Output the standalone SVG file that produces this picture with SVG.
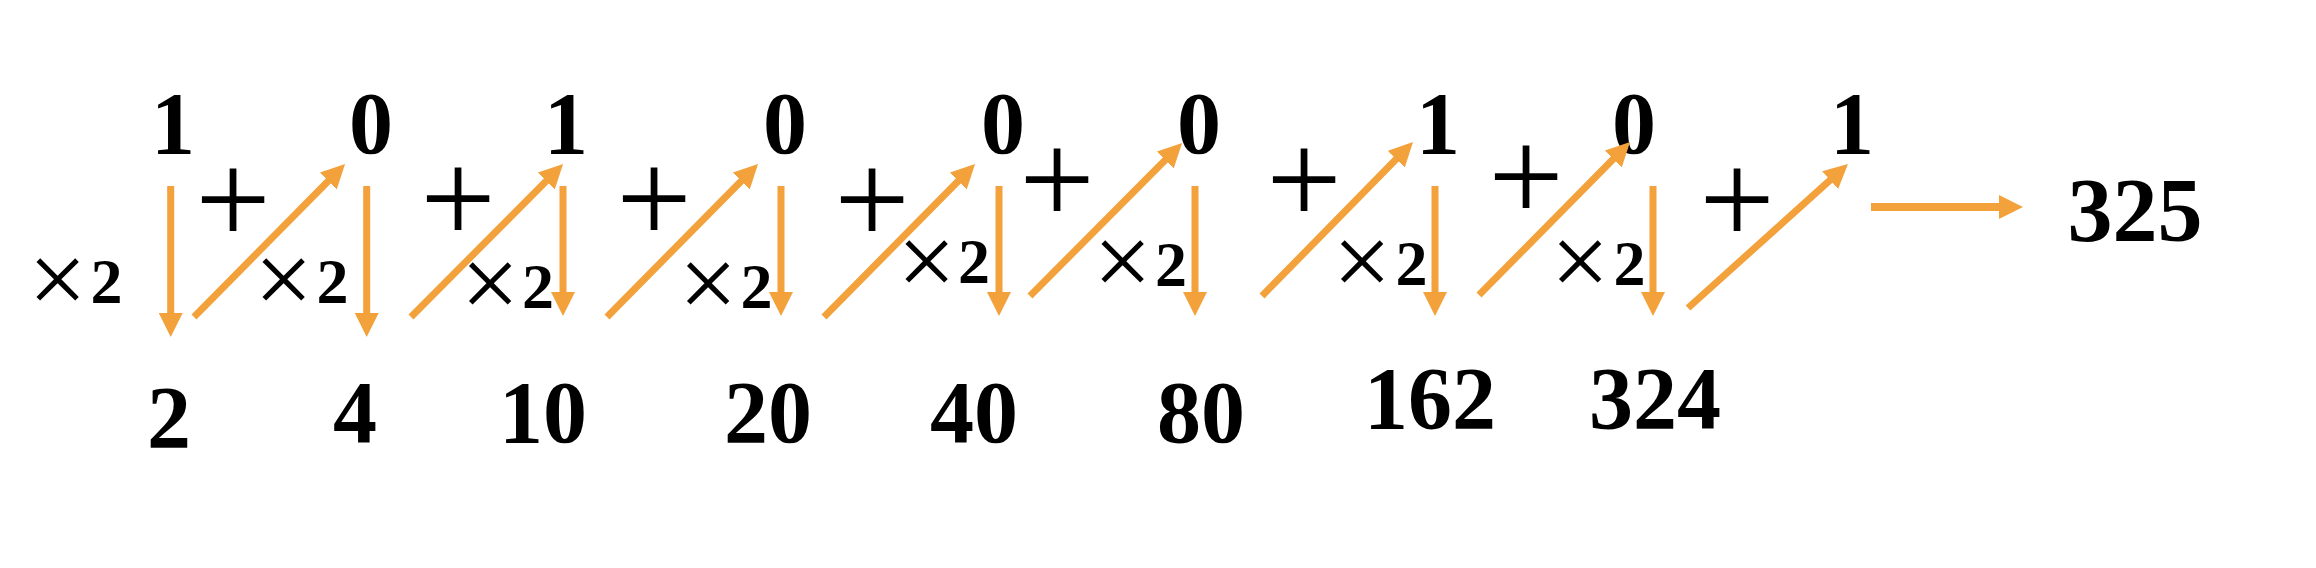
<svg xmlns="http://www.w3.org/2000/svg" width="2316" height="568" viewBox="0 0 2316 568">
<style>
.big{font-family:"Liberation Serif","Times New Roman",serif;font-weight:bold;font-size:88px;fill:#000;text-anchor:middle}
.res{font-size:90px}
.plus{font-family:"Liberation Serif","Times New Roman",serif;font-size:134px;fill:#000;text-anchor:middle}
.mul{font-family:"Liberation Serif","Times New Roman",serif;font-size:104px;fill:#000;text-anchor:middle}
.two{font-family:"Liberation Serif","Times New Roman",serif;font-weight:bold;font-size:64px;fill:#000;text-anchor:middle}
.arr{stroke:#F2A13B;stroke-width:7;fill:none;marker-end:url(#ah)}
.arrh{stroke:#F2A13B;stroke-width:8;fill:none;marker-end:url(#ah)}
</style>
<defs>
<marker id="ah" viewBox="0 0 24 24" markerWidth="24" markerHeight="24" markerUnits="userSpaceOnUse" refX="4" refY="12" orient="auto">
<path d="M0,0 L24,12 L0,24 z" fill="#F2A13B"/>
</marker>
</defs>
<rect width="2316" height="568" fill="#fff"/>
<g id="bits">
<text id="b1" class="big" x="173" y="153">1</text>
<text id="b2" class="big" x="371" y="153">0</text>
<text id="b3" class="big" x="566" y="153">1</text>
<text id="b4" class="big" x="785" y="153">0</text>
<text id="b5" class="big" x="1003" y="153">0</text>
<text id="b6" class="big" x="1199" y="153">0</text>
<text id="b7" class="big" x="1438" y="153">1</text>
<text id="b8" class="big" x="1634" y="153">0</text>
<text id="b9" class="big" x="1852" y="153">1</text>
</g>
<g id="partials">
<text id="r1" class="big" x="169" y="447">2</text>
<text id="r2" class="big" x="355" y="442">4</text>
<text id="r3" class="big" x="543" y="442">10</text>
<text id="r4" class="big" x="768" y="442">20</text>
<text id="r5" class="big" x="974" y="442">40</text>
<text id="r6" class="big" x="1201" y="442">80</text>
<text id="r7" class="big" x="1430" y="428">162</text>
<text id="r8" class="big" x="1655" y="428">324</text>
</g>
<g id="result">
<text id="r9" class="big res" x="2135" y="241">325</text>
</g>
<g id="plus">
<text id="p1" class="plus" x="233" y="244">+</text>
<text id="p2" class="plus" x="458" y="243">+</text>
<text id="p3" class="plus" x="654" y="243">+</text>
<text id="p4" class="plus" x="872" y="244">+</text>
<text id="p5" class="plus" x="1057" y="224">+</text>
<text id="p6" class="plus" x="1304" y="224">+</text>
<text id="p7" class="plus" x="1526" y="221">+</text>
<text id="p8" class="plus" x="1737" y="244">+</text>
</g>
<g id="times">
<text id="m1"><tspan class="mul" x="57.5" y="314">×</tspan><tspan class="two" x="106.5" y="303">2</tspan></text>
<text id="m2"><tspan class="mul" x="283.5" y="314">×</tspan><tspan class="two" x="332.5" y="303">2</tspan></text>
<text id="m3"><tspan class="mul" x="490" y="318">×</tspan><tspan class="two" x="538" y="308">2</tspan></text>
<text id="m4"><tspan class="mul" x="708" y="318">×</tspan><tspan class="two" x="756.5" y="308">2</tspan></text>
<text id="m5"><tspan class="mul" x="926.5" y="296">×</tspan><tspan class="two" x="974" y="283">2</tspan></text>
<text id="m6"><tspan class="mul" x="1122.5" y="296">×</tspan><tspan class="two" x="1171" y="286">2</tspan></text>
<text id="m7"><tspan class="mul" x="1362" y="296">×</tspan><tspan class="two" x="1411.5" y="285">2</tspan></text>
<text id="m8"><tspan class="mul" x="1580" y="296">×</tspan><tspan class="two" x="1629.5" y="285">2</tspan></text>
</g>
<g id="connectors">
<line class="arr" x1="170.7" y1="186" x2="170.7" y2="317"/>
<line class="arr" x1="366.7" y1="186" x2="366.7" y2="317"/>
<line class="arr" x1="563" y1="186" x2="563" y2="296"/>
<line class="arr" x1="781" y1="186" x2="781" y2="296"/>
<line class="arr" x1="999" y1="186" x2="999" y2="296"/>
<line class="arr" x1="1195" y1="186" x2="1195" y2="296"/>
<line class="arr" x1="1435" y1="186" x2="1435" y2="296"/>
<line class="arr" x1="1653" y1="186" x2="1653" y2="296"/>
<line class="arr" x1="194" y1="317" x2="331" y2="178.2"/>
<line class="arr" x1="411" y1="317" x2="549" y2="178.2"/>
<line class="arr" x1="607" y1="317" x2="744" y2="178.2"/>
<line class="arr" x1="824" y1="317" x2="961" y2="178.2"/>
<line class="arr" x1="1030" y1="296" x2="1168" y2="157.2"/>
<line class="arr" x1="1262" y1="296" x2="1399" y2="156.3"/>
<line class="arr" x1="1479" y1="295" x2="1616" y2="156.2"/>
<line class="arr" x1="1688" y1="308" x2="1833.1" y2="177.4"/>
<line class="arrh" x1="1871" y1="207" x2="2003" y2="207"/>
</g>
</svg>
